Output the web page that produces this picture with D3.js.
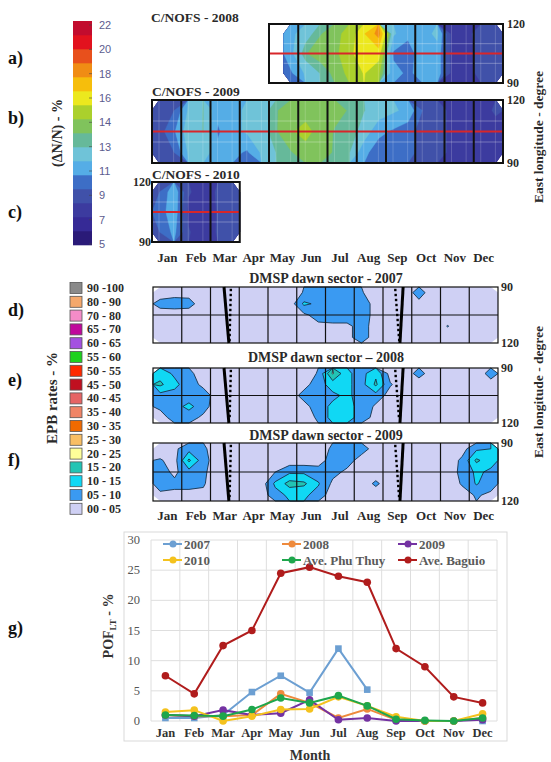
<!DOCTYPE html>
<html><head><meta charset="utf-8">
<script src="https://cdn.jsdelivr.net/npm/d3@7"></script>
<style>body{margin:0;background:#fff}svg{display:block}</style>
</head><body><svg id="c" width="551" height="762"></svg>
<script>
// ---------------- DATA ----------------
const months = ["Jan","Feb","Mar","Apr","May","Jun","Jul","Aug","Sep","Oct","Nov","Dec"];
const cbTicks = [5,7,9,11,13,14,16,18,20,22];
const cbColors = ["#2a1a78","#362a96","#3c3b9f","#4051a9","#3d6ec6","#55ade6","#6fc3d8","#66b99a","#80c35c","#abd02c","#ece81e","#f6be0c","#f08c14","#e8501c","#e2121e","#c20c2e"];
const lonTicks = [90,120];
// C/NOFS dN/N (%) on half-month columns; rows: 120E, 105E, 90E
const cnofs2008Start = 4.5; // data begin mid-May
const cnofs2008 = [
 [11.5, 12.5,13.5, 14,14.6, 16.5,18.2, 12,11, 11.5,12, 8,8, 9,9.5],
 [11.5, 13.5,14, 14,15, 16.5,16, 10.5,10, 11.5,11.5, 8,7.5, 9,9],
 [10.5, 12,13, 13.8,14.5, 15.5,14.5, 11,10.5, 11,11.5, 8,7.5, 9,9.5]];
const cnofs2009 = [
 [8.5,9.5, 12,13, 11,11.5, 12,12.5, 13.5,14, 14,14, 13.8,13.5, 13,12.5, 12,11.5, 9.5,9, 8,8, 8,8.5],
 [9,10.5, 12.5,13, 10.5,11.5, 12,12.5, 13.5,14.2, 14.5,14, 13.5,13.5, 12.5,11, 10.5,10, 9,9, 8,8, 8,8],
 [8.5,9.5, 12,12.5, 11,11, 10.5,12, 13,13.5, 14,13.8, 13.5,13, 11,10, 10,10, 9,9, 8,8, 8,8]];
const cnofs2010 = [
 [9.5,11.5, 8.5,7.8, 8.5,9],
 [10,11.5, 8,7.2, 8.5,9],
 [9.5,11, 8.5,7.5, 8.5,9]];
// EPB legend
const epbLabels = ["90 -100","80 - 90","70 - 80","65 - 70","60 - 65","55 - 60","50 - 55","45 - 50","40 - 45","35 - 40","30 - 35","25 - 30","20 - 25","15 - 20","10 - 15","05 - 10","00 - 05"];
const epbColors = ["#8a8a8a","#f4a86c","#f48cc8","#c0089c","#a450e0","#1ed21e","#ff2a00","#c01020","#e66464","#f08466","#f06a00","#f8be64","#ffff99","#22c4b4","#10d8f4","#3a9af2","#cfd0f4"];
const epbThresholds = [-1,5,10,15,20];
// DMSP EPB rates (%) on half-month columns; rows 90E (top) ... 120E (bottom)
const dmsp2007 = [
 [2,3,3,2, 1,1,1,1,1,1, 5.5,8,8,8,5.5,2, 1,1,8,1, 1,1,1,1],
 [7,7.5,7,2, 1,1,1,1,1,2, 11,9,8,8,8,3, 1,1,3,1, 1,1,1,1],
 [2,2,2,1, 1,1,1,1,1,1, 4,7,8,8,8,3, 1,1,1,1, 1,1,1,1],
 [1,1,1,1, 1,1,1,1,1,1, 1,3.8,3.8,3.8,7,3, 1,1,1,1, 5.3,1,1,1],
 [1,1,1,1, 1,1,1,1,1,1, 1,1,1,3.8,7,3, 1,1,1,1, 1,1,1,1]];
const dmsp2008 = [
 [13,9,6,3, 2,2,2,2,2,2, 2,5.5,20.5,11,8,14, 3,2,7,2, 2,2,2,7],
 [16,11.5,7,4, 2,2,2,2,2,2, 3,8,12,11,8,16, 5.5,2,2,2, 2,2,2,3],
 [8,8,7,7, 3,2,2,2,2,2, 7,8,9,11,8,8, 3,2,2,2, 2,2,2,2],
 [6,8,11.5,7, 2,2,2,2,2,2, 3,8,11,11,9,4, 2,2,2,2, 2,2,2,2],
 [3,7,7,4, 2,2,2,2,2,2, 2,6,12,12,8,3, 2,2,2,2, 2,2,2,2]];
const dmsp2009 = [
 [2,4,8,6, 2,2,2,2,2,2, 2,2,6,8,7,3, 2,2,2,2, 2,3,9,10],
 [5.5,3,16,7, 2,2,2,2,2,2, 2,3,7,7,3,2, 2,2,2,2, 2,6,16,12],
 [7,4,8,6, 2,2,2,2,5,9, 9,7,6.5,4,2,2, 2,2,2,2, 2,6.5,11,9],
 [7,6,6,5.5, 2,2,2,2,11,17, 16,10.5,4,2,2,6, 2,2,2,2, 2,5.5,10.5,7],
 [4,4,4,4, 2,2,2,2,8,11, 11,8,2,2,2,2, 2,2,2,2, 2,3,5.5,4]];
// terminator positions (month units) at 90E and 120E
const termMar = [2.47,2.64], termMarDots = [2.71,2.66];
const termSep = [8.70,8.59], termSepDots = [8.42,8.57];
// POF (%)
const pofTicks = [0,5,10,15,20,25,30];
const seriesNames = ["2007","2008","2009","2010","Ave. Phu Thuy","Ave. Baguio"];
const seriesColors = ["#6c9fd2","#ee8a3c","#7432a2","#f4c21e","#1ea64c","#b01c1c"];
const pof2007 = [0.5,0.5,1,4.8,7.5,4.7,12,5.2,null,null,null,0];
const pof2008 = [1,0.8,0.8,1,4.5,3,0.5,2,0.2,0,0,0.5];
const pof2009 = [1,0.8,1.8,1,1.3,3.5,0.2,0.5,0,0,0,0.2];
const pof2010 = [1.5,1.8,0,0.8,1.9,2,4,2.5,0.7,0,0,1.2];
const pofPhuThuy = [1,0.9,0.8,1.9,3.8,3,4.2,2.5,0.3,0.1,0,0.5];
const pofBaguio = [7.5,4.5,12.5,15,24.5,25.5,24,23,12,9,4,3];

// ---------------- DRAW ----------------
const svg = d3.select("#c");
const serif = '"Liberation Serif","Times New Roman",serif';
function txt(x,y,s,o={}){
  const t = svg.append("text").attr("x",x).attr("y",y).text(s)
    .attr("font-family",o.family||serif).attr("font-size",o.size||13)
    .attr("font-weight",o.weight||"bold").attr("fill",o.fill||"#2a2a2a")
    .attr("text-anchor",o.anchor||"start");
  if(o.rot) t.attr("x",0).attr("y",0).attr("transform",`translate(${x},${y}) rotate(${o.rot})`);
  return t;
}
function contourFill(g,grid,x0,x1,y0,y1,thresholds,colors,line){
  const m=grid.length,n=grid[0].length,sx=(x1-x0)/n,sy=(y1-y0)/m;
  const path=d3.geoPath(d3.geoTransform({point(x,y){this.stream.point(x0+x*sx,y0+y*sy);}}));
  const cs=d3.contours().size([n,m]).thresholds(thresholds)(grid.flat());
  g.append("g").selectAll("path").data(cs).join("path").attr("d",path)
   .attr("fill",(d,i)=>colors[i])
   .attr("stroke",(d,i)=>line?(i>0?line:"none"):colors[i])
   .attr("stroke-width",line?0.9:0.4).attr("stroke-linejoin","round");
}

// row labels
[["a)",64],["b)",124],["c)",218],["d)",316],["e)",386],["f)",466],["g)",634]].forEach(([s,y])=>txt(8,y,s,{size:18,fill:"#111"}));

// colorbar
const cbTop=21, cbBot=245, bandH=(cbBot-cbTop)/cbColors.length;
const cbY=d3.scaleLinear().domain(cbTicks).range(cbTicks.map((_,i)=>244-i*219/9));
svg.append("g").selectAll("rect").data(cbColors).join("rect")
  .attr("x",73).attr("width",19).attr("y",(d,i)=>cbBot-bandH*(i+1)).attr("height",bandH+0.3).attr("fill",d=>d);
cbTicks.forEach(v=>{
  svg.append("line").attr("x1",89).attr("x2",92).attr("y1",cbY(v)).attr("y2",cbY(v)).attr("stroke","#444").attr("stroke-width",0.6);
  txt(99,cbY(v)+4,String(v),{family:'"Liberation Sans",Arial,sans-serif',weight:"normal",size:11,fill:"#5c5c8e"});
});
txt(62,133,"(ΔN/N) - %",{rot:-90,anchor:"middle",size:14});
const cbThresholds=cbColors.map((c,k)=>k===0?-1:cbY.invert(cbBot-bandH*k));

// C/NOFS panels
const xC=d3.scaleLinear().domain([0,12]).range([152,503]);
function cnofsPanel(grid,m0,m1,gStart,y0,y1,title,tx,ty,labSide){
  const g=svg.append("g");
  g.append("rect").attr("x",xC(m0)).attr("y",y0).attr("width",xC(m1)-xC(m0)).attr("height",y1-y0).attr("fill","#fff");
  contourFill(g,grid,xC(gStart),xC(m1),y0,y1,cbThresholds,cbColors,null);
  const ly=d3.scaleLinear().domain([120,90]).range([y0,y1]);
  [100,110].forEach(l=>g.append("line").attr("x1",xC(gStart)).attr("x2",xC(m1)).attr("y1",ly(l)).attr("y2",ly(l)).attr("stroke","#fff").attr("stroke-opacity",0.3).attr("stroke-width",1));
  d3.range(gStart,m1,0.5).forEach(m=>g.append("line").attr("x1",xC(m)+7).attr("x2",xC(m)+7).attr("y1",y0).attr("y2",y1).attr("stroke","#fff").attr("stroke-opacity",0.18));
  g.append("line").attr("x1",xC(m0)).attr("x2",xC(m1)).attr("y1",ly(105)).attr("y2",ly(105)).attr("stroke","#d8262a").attr("stroke-width",2);
  d3.range(m0+1,m1).forEach(m=>g.append("line").attr("x1",xC(m)).attr("x2",xC(m)).attr("y1",y0).attr("y2",y1).attr("stroke","#111").attr("stroke-width",2));
  g.append("rect").attr("x",xC(m0)).attr("y",y0).attr("width",xC(m1)-xC(m0)).attr("height",y1-y0).attr("fill","none").attr("stroke","#111").attr("stroke-width",2);
  txt(tx,ty,title,{size:13.5});
  lonTicks.forEach(l=>{
    if(labSide==="right") txt(xC(m1)+4,ly(l)+4,String(l),{size:12});
    else txt(xC(m0)-1,ly(l)+4,String(l),{size:12,anchor:"end"});
  });
}
cnofsPanel(cnofs2008,4,12,cnofs2008Start,24,83,"C/NOFS - 2008",151,22,"right");
cnofsPanel(cnofs2009,0,12,0,100,163,"C/NOFS - 2009",152,96,"right");
cnofsPanel(cnofs2010,0,3,0,182,242,"C/NOFS - 2010",152,179,"left");

const xD=d3.scaleLinear().domain([0,12]).range([153,498]);
months.forEach((s,i)=>txt(xD(i+0.5),262,s,{size:13,anchor:"middle"}));
txt(543,137,"East longitude - degree",{rot:-90,anchor:"middle",size:13.5});

// EPB legend
epbLabels.forEach((s,i)=>{
  const y=288+i*13.8;
  svg.append("rect").attr("x",70).attr("y",y-5.5).attr("width",12).attr("height",11).attr("fill",epbColors[i]).attr("stroke","#555").attr("stroke-width",0.8);
  txt(87,y+4,s,{size:12});
});
txt(57,398,"EPB rates - %",{rot:-90,anchor:"middle",size:15});

// DMSP panels
function dmspPanel(grid,y0,y1,title,ty){
  const g=svg.append("g");
  contourFill(g,grid,xD(0),xD(12),y0,y1,epbThresholds,epbColors.slice(-1).concat(epbColors.slice(-5,-1).reverse()),"#17324a");
  const ly=d3.scaleLinear().domain([90,120]).range([y0,y1]);
  d3.range(1,12).forEach(m=>g.append("line").attr("x1",xD(m)).attr("x2",xD(m)).attr("y1",y0).attr("y2",y1).attr("stroke","#111").attr("stroke-width",1.2));
  g.append("line").attr("x1",xD(0)).attr("x2",xD(12)).attr("y1",ly(105)).attr("y2",ly(105)).attr("stroke","#111").attr("stroke-width",1.2);
  g.append("rect").attr("x",xD(0)).attr("y",y0).attr("width",xD(12)-xD(0)).attr("height",y1-y0).attr("fill","none").attr("stroke","#111").attr("stroke-width",1.2);
  [[termMar,termMarDots],[termSep,termSepDots]].forEach(([t,dts])=>{
    g.append("line").attr("x1",xD(t[0])).attr("y1",y0).attr("x2",xD(t[1])).attr("y2",y1).attr("stroke","#000").attr("stroke-width",3);
    const dx=d3.scaleLinear().domain([y0,y1]).range([xD(dts[0]),xD(dts[1])]);
    d3.range(y0+3,y1-2,5).forEach(y=>g.append("rect").attr("x",dx(y)-1.2).attr("y",y-1.2).attr("width",2.4).attr("height",2.4).attr("fill","#000"));
  });
  txt(326,ty,title,{size:14,anchor:"middle"});
  lonTicks.forEach(l=>txt(xD(12)+3,ly(l)+4,String(l),{size:12}));
}
dmspPanel(dmsp2007,287,343,"DMSP dawn sector - 2007",283);
dmspPanel(dmsp2008,368,423,"DMSP dawn sector \u2013 2008",362);
dmspPanel(dmsp2009,443,501,"DMSP dawn sector - 2009",440);
months.forEach((s,i)=>txt(xD(i+0.5),520,s,{size:13,anchor:"middle"}));
txt(543,392,"East longitude - degree",{rot:-90,anchor:"middle",size:13.5});

// Chart g
svg.append("rect").attr("x",124).attr("y",532).attr("width",383).attr("height",209).attr("fill","#fff").attr("stroke","#d9d9d9");
const xG=d3.scaleBand().domain(months).range([151,497]);
const yG=d3.scaleLinear().domain([0,30]).range([721,540]);
const gg=svg.append("g");
pofTicks.forEach(v=>gg.append("line").attr("x1",151).attr("x2",497).attr("y1",yG(v)).attr("y2",yG(v)).attr("stroke","#dedede"));
d3.range(13).forEach(i=>gg.append("line").attr("x1",151+i*xG.bandwidth()).attr("x2",151+i*xG.bandwidth()).attr("y1",540).attr("y2",721).attr("stroke","#dedede"));
pofTicks.forEach(v=>txt(140,yG(v)+4,String(v),{size:12.5,anchor:"end",fill:"#555",weight:"normal"}));
months.forEach(m=>txt(xG(m)+xG.bandwidth()/2,737,m,{size:12.5,anchor:"middle",fill:"#333"}));
txt(310,760,"Month",{size:14,anchor:"middle",fill:"#333"});
const yl=txt(113,626,"",{rot:-90,anchor:"middle",size:14,fill:"#333"});
yl.append("tspan").text("POF");
yl.append("tspan").text("LT").attr("font-size",9).attr("dy",3);
yl.append("tspan").text(" - %").attr("dy",-3);
const allSeries=[pof2007,pof2008,pof2009,pof2010,pofPhuThuy,pofBaguio];
const line=d3.line().defined(d=>d.v!=null).x(d=>xG(d.m)+xG.bandwidth()/2).y(d=>yG(d.v));
allSeries.forEach((s,k)=>{
  const pts=s.map((v,i)=>({m:months[i],v}));
  gg.append("path").attr("d",line(pts)).attr("fill","none").attr("stroke",seriesColors[k]).attr("stroke-width",2);
  pts.filter(d=>d.v!=null).forEach(d=>{
    const cx=xG(d.m)+xG.bandwidth()/2, cy=yG(d.v);
    if(k===0) gg.append("rect").attr("x",cx-3.3).attr("y",cy-3.3).attr("width",6.6).attr("height",6.6).attr("fill",seriesColors[k]);
    else gg.append("circle").attr("cx",cx).attr("cy",cy).attr("r",3.8).attr("fill",seriesColors[k]);
  });
});
// legend
const legX=[163,282,398], legY=[544,560];
seriesNames.forEach((s,i)=>{
  const x=legX[i%3], y=legY[Math.floor(i/3)];
  svg.append("line").attr("x1",x).attr("x2",x+19).attr("y1",y).attr("y2",y).attr("stroke",seriesColors[i]).attr("stroke-width",2);
  svg.append("circle").attr("cx",x+10).attr("cy",y).attr("r",3.5).attr("fill",seriesColors[i]);
  txt(x+21,y+4.5,s,{size:13,fill:"#5a5a5a"});
});
</script></body></html>
